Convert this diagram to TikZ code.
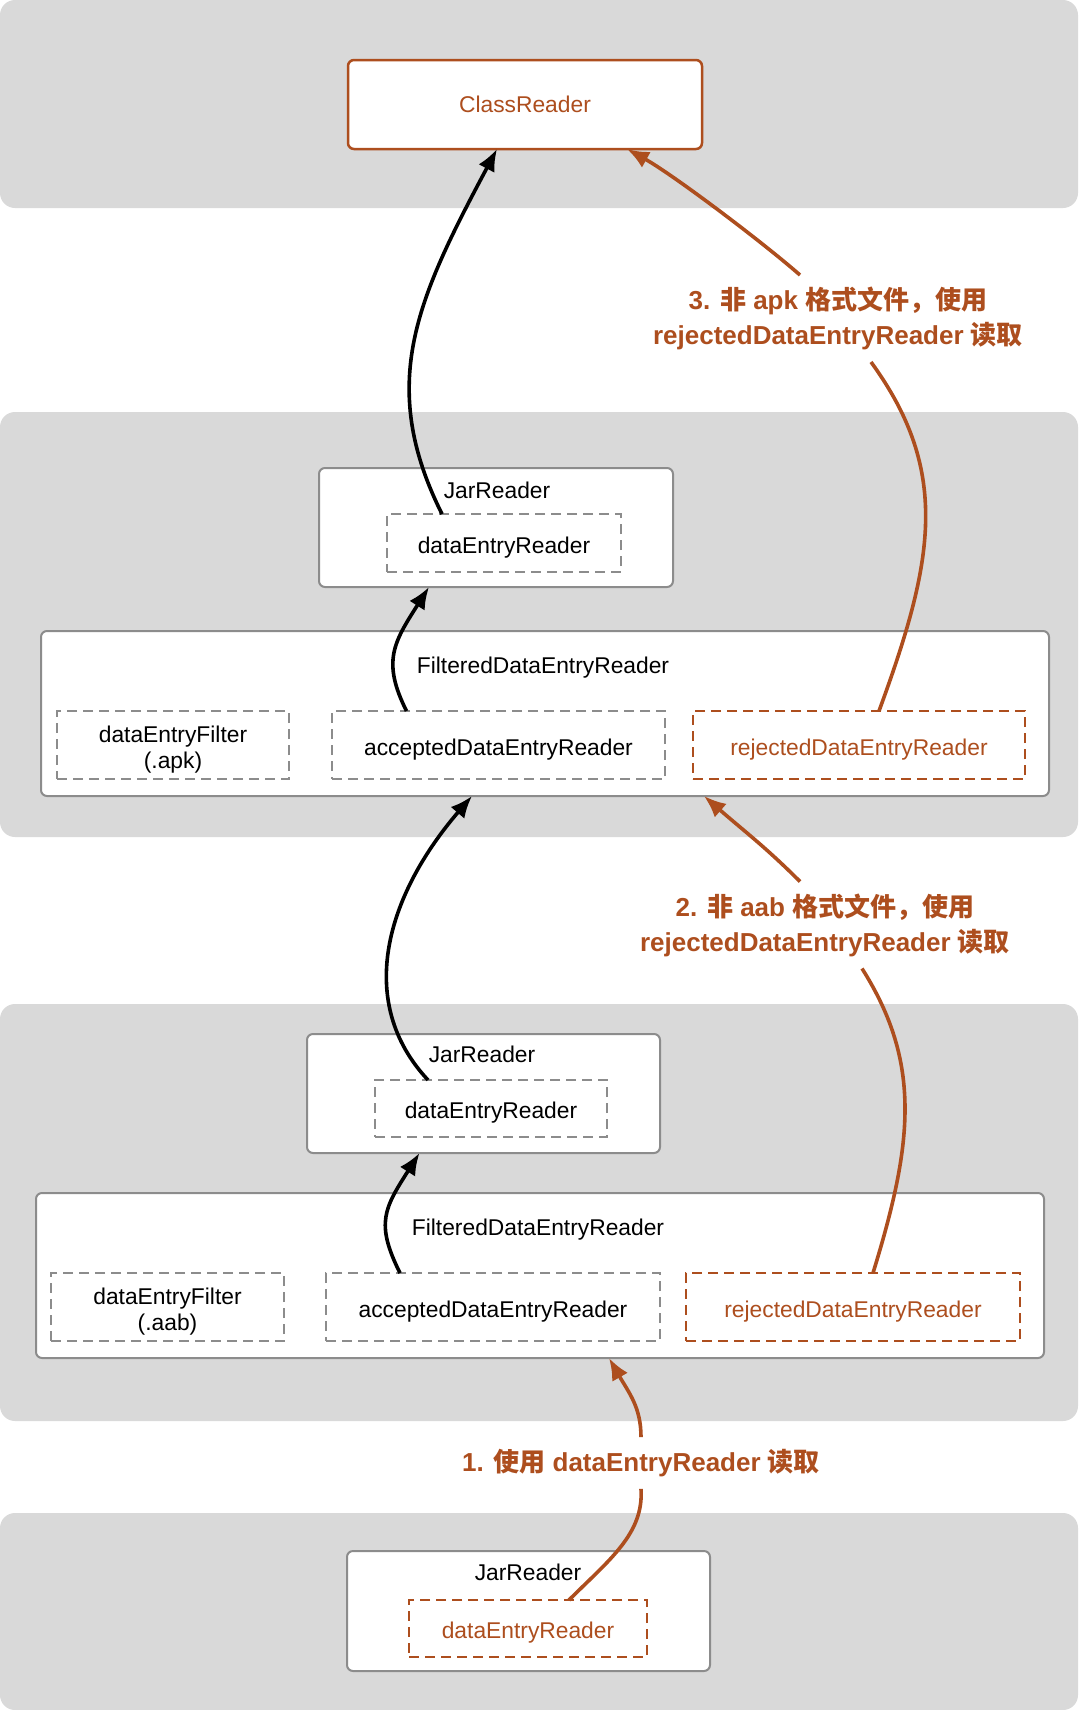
\documentclass[tikz,border=0pt]{standalone}
\usepackage{fontspec}
\setmainfont{Liberation Sans}
\newfontfamily\cjk{Noto Sans CJK SC}
\usetikzlibrary{arrows.meta}
\definecolor{rust}{HTML}{AD4E1E}
\definecolor{bandgray}{HTML}{D9D9D9}
\definecolor{edgegray}{HTML}{8C8C8C}
\newcommand\zh[1]{{\cjk\bfseries #1}}

\begin{document}
\begin{tikzpicture}[x=0.5pt,y=-0.5pt,
    font=\fontsize{11.4}{13}\selectfont,
    band/.style={fill=bandgray,rounded corners=7.5pt},
    holder/.style={draw=edgegray,line width=1pt,fill=white,rounded corners=3pt,outer sep=0pt},
    slot/.style={draw=edgegray,line width=1pt,dash pattern=on 5pt off 3pt,outer sep=0pt,align=center,text height=12.5pt},
    redslot/.style={slot,draw=rust,text=rust},
    note/.style={font=\bfseries\fontsize{13}{17.5}\selectfont,text=rust,align=center,inner sep=6pt,outer sep=0pt},
    arr/.style={line width=1.8pt,-{Latex[length=11pt,width=9pt]}},
    rline/.style={draw=rust,line width=1.8pt},
    rarr/.style={rline,-{Latex[length=11pt,width=9pt]}}]
  \useasboundingbox (0,0) rectangle (1080,1710);

  % layers
  \fill[band] (0,0) rectangle (1078,208);
  \fill[band] (0,412) rectangle (1078,837);
  \fill[band] (0,1004) rectangle (1078,1421);
  \fill[band] (0,1513) rectangle (1078,1710);

  % top: ClassReader
  \node[holder,draw=rust,line width=1.25pt,text=rust,minimum width=177pt,minimum height=44.5pt] (cr) at (525,104.5) {ClassReader};

  % apk layer
  \node[holder,minimum width=177pt,minimum height=59.5pt] (jar2) at (496,527.5) {};
  \node (jar2t) at (497,490) {JarReader};
  \node[slot,minimum width=117pt,minimum height=29pt] (der2) at (504,543) {dataEntryReader};
  \node[holder,minimum width=504pt,minimum height=82.5pt] (fil2) at (545,713.5) {};
  \node (fil2t) at (543,668) {FilteredDataEntryReader};
  \node[slot,text height=25.7pt,inner ysep=1pt,minimum width=116pt,minimum height=34pt] (filt2) at (173,745) {dataEntryFilter\\(.apk)};
  \node[slot,minimum width=166.5pt,minimum height=34pt] (acc2) at (498.5,745) {acceptedDataEntryReader};
  \node[redslot,minimum width=166pt,minimum height=34pt] (rej2) at (859,745) {rejectedDataEntryReader};

  % aab layer
  \node[holder,minimum width=176.5pt,minimum height=59.5pt] (jar3) at (483.5,1093.5) {};
  \node (jar3t) at (482,1054) {JarReader};
  \node[slot,minimum width=116pt,minimum height=28.5pt] (der3) at (491,1108.5) {dataEntryReader};
  \node[holder,minimum width=504pt,minimum height=82.5pt] (fil3) at (540,1275.5) {};
  \node (fil3t) at (538,1230) {FilteredDataEntryReader};
  \node[slot,text height=25.7pt,inner ysep=1pt,minimum width=116.5pt,minimum height=34pt] (filt3) at (167.5,1307) {dataEntryFilter\\(.aab)};
  \node[slot,minimum width=167pt,minimum height=34pt] (acc3) at (493,1307) {acceptedDataEntryReader};
  \node[redslot,minimum width=167pt,minimum height=34pt] (rej3) at (853,1307) {rejectedDataEntryReader};

  % input jar
  \node[holder,minimum width=181.5pt,minimum height=60pt] (jar4) at (528.5,1611) {};
  \node (jar4t) at (528,1572) {JarReader};
  \node[redslot,minimum width=119pt,minimum height=28.5pt] (der4) at (528,1628.5) {dataEntryReader};

  % step labels
  \node[note] (lbl3) at (838,318.5) {3. \zh{非} apk \zh{格式文件，使用}\\rejectedDataEntryReader \zh{读取}};
  \node[note] (lbl2) at (825,925) {2. \zh{非} aab \zh{格式文件，使用}\\rejectedDataEntryReader \zh{读取}};
  \node[note] (lbl1) at (641,1463) {1. \zh{使用} dataEntryReader \zh{读取}};

  % accepted path
  \draw[arr] ([xshift=-31pt]der2.north) .. controls +(-65,-130) and +(-80,150) .. ([xshift=-14pt]cr.south);
  \draw[arr] ([xshift=-46pt]acc2.north) .. controls +(-25,-50) and +(-35,55) .. ([xshift=-33.5pt]jar2.south);
  \draw[arr] ([xshift=-31.5pt]der3.north) .. controls +(-73,-78) and +(-86,100) .. ([xshift=-36.5pt]fil2.south);
  \draw[arr] ([xshift=-46.5pt]acc3.north) .. controls +(-25,-50) and +(-35,55) .. ([xshift=-32pt]jar3.south);

  % rejected path
  \draw[rline] ([xshift=20.5pt]der4.north) .. controls +(40,-40) and +(3,45) .. (lbl1.south);
  \draw[rarr] (lbl1.north) .. controls +(0,-30) and +(20,35) .. ([xshift=34.5pt]fil3.south);
  \draw[rline] ([xshift=10pt]rej3.north) .. controls +(40,-130) and +(60,95) .. ([xshift=18.5pt]lbl2.south);
  \draw[rarr] ([xshift=-12.5pt]lbl2.north) .. controls +(-35,-35) and +(40,35) .. ([xshift=79.5pt]fil2.south);
  \draw[rline] ([xshift=10pt]rej2.north) .. controls +(55,-150) and +(80,110) .. ([xshift=16.5pt]lbl3.south);
  \draw[rarr] ([xshift=-19pt]lbl3.north) .. controls +(-40,-35) and +(45,25) .. ([xshift=51pt]cr.south);
\end{tikzpicture}
\end{document}
